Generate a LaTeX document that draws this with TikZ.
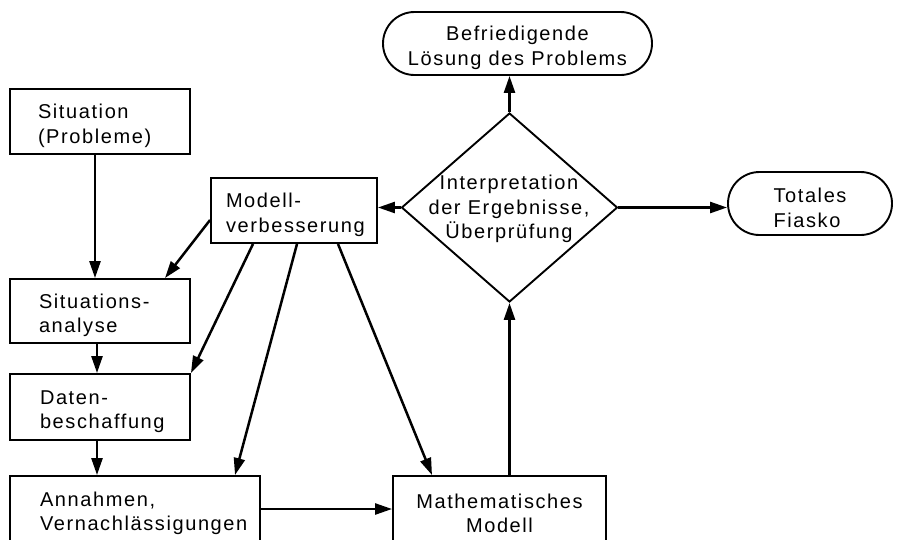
\documentclass[tikz,border=0pt]{standalone}
\usepackage{fontspec}
\setmainfont{Liberation Sans}[LetterSpace=8]
\usetikzlibrary{arrows.meta,shapes.geometric,shapes.misc}
\hyphenpenalty=10000
\exhyphenpenalty=10000
\newcommand{\toppad}{\rule{0pt}{23pt}}
\begin{document}
\begin{tikzpicture}[x=1pt,y=-1pt,
  every node/.style={font=\fontsize{20}{24.5}\selectfont, inner sep=0pt},
  box/.style={draw, line width=1.9pt, rectangle, align=left},
  term/.style={draw, line width=1.9pt, rounded rectangle, align=center},
  decision/.style={draw, line width=1.9pt, diamond},
  arr/.style={line width=2.5pt, -{Triangle[length=17pt,width=11pt]}}]
\useasboundingbox (0,0) rectangle (907,539);
\clip (0,0) rectangle (907,539);

% boxes
\node[box, minimum width=180, minimum height=65, text width=124] (sit) at (100,121.5) {\toppad Situation\\(Probleme)};
\node[box, minimum width=180, minimum height=64, text width=122] (sana) at (100,311) {\toppad Situations-\\analyse};
\node[box, minimum width=180, minimum height=66, text width=120] (daten) at (100,407) {\toppad Daten-\\beschaffung};
\node[box, minimum width=250, minimum height=66, text width=190] (ann) at (135,509) {\toppad Annahmen,\\Vernachlässigungen};
\node[box, minimum width=213, minimum height=66, align=center] (math) at (499.5,509) {\toppad Mathematisches\\Modell};
\node[box, minimum width=166, minimum height=65, text width=136] (mod) at (294,210.5) {\toppad Modell-\\verbesserung};
\node[decision, minimum width=216, minimum height=189] (dia) at (509.5,207.5) {};
\node[align=center] (diatext) at (509,209) {Interpretation\\der Ergebnisse,\\Überprüfung};
\node[term, minimum width=269, minimum height=63] (befr) at (517.5,43.5) {\toppad Befriedigende\\Lösung des Problems};
\node[term, minimum width=164, minimum height=63, align=left] (tot) at (810,203.5) {\toppad Totales\\Fiasko};

% connectors
\draw[arr] ([xshift=-5pt]sit.south) -- ([xshift=-5pt]sana.north);
\draw[arr] ([xshift=-3pt]sana.south) -- ([xshift=-3pt]daten.north);
\draw[arr] ([xshift=-3pt]daten.south) -- ([xshift=-3pt]daten.south |- ann.north);
\draw[arr] ([yshift=-9.5pt]mod.west) -- ([xshift=65pt]sana.north);
\draw[arr] ([xshift=-41pt]mod.south) -- (daten.north east);
\draw[arr] ([xshift=3pt]mod.south) -- ([xshift=100pt]ann.north);
\draw[arr] ([xshift=44pt]mod.south) -- ([xshift=-67.5pt]math.north);
\draw[arr] (ann.east) -- (math.west);
\draw[arr] (dia.south |- math.north) -- (dia.south);
\draw[arr] (dia.north) -- (dia.north |- befr.south);
\draw[arr] (dia.west) -- (dia.west -| mod.east);
\draw[arr] (dia.east) -- (dia.east -| tot.west);
\end{tikzpicture}
\end{document}
